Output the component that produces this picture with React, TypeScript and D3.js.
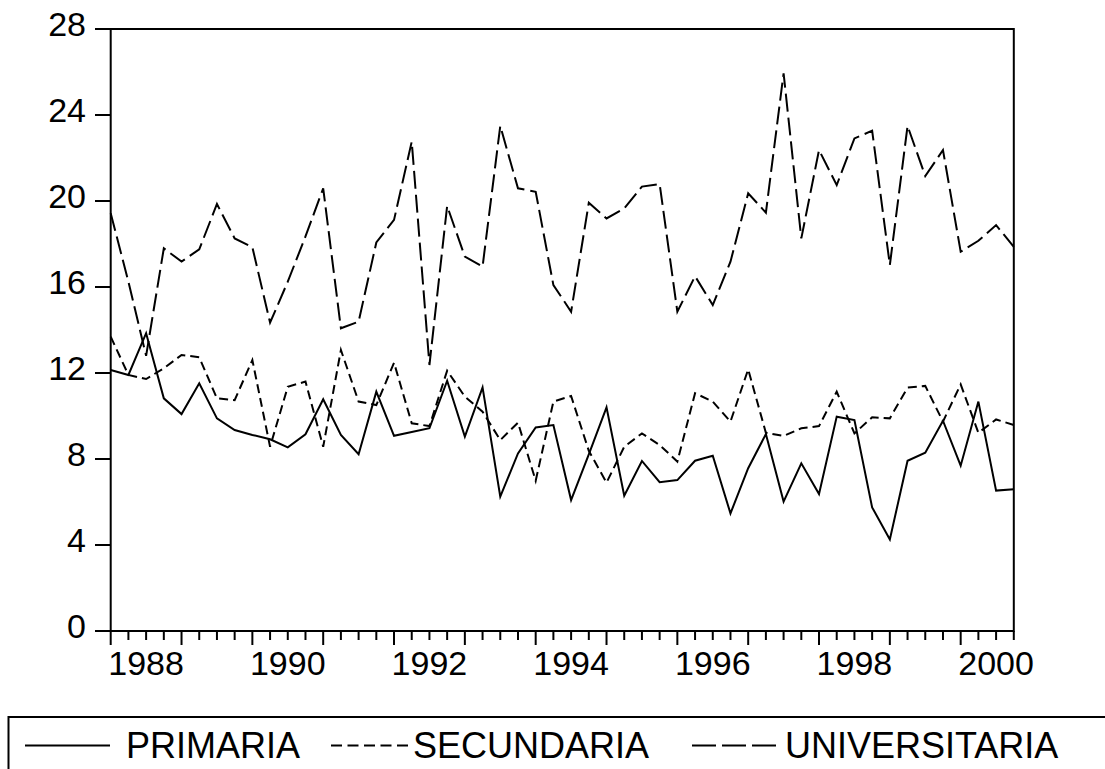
import React from "react";
import * as d3 from "d3";

const quarters: string[] = [];
for (let y = 1988; y <= 2000; y++) for (let q = 1; q <= 4; q++) quarters.push(`${y}Q${q}`);

const primaria = [
  12.14, 11.91, 13.85, 10.82,
  10.09, 11.52, 9.89, 9.35,
  9.12, 8.92, 8.54, 9.15,
  10.78, 9.12, 8.22, 11.13,
  9.08, 9.26, 9.43, 11.64,
  9.04, 11.33, 6.25, 8.26,
  9.47, 9.58, 6.09, 8.22,
  10.4, 6.29, 7.91, 6.92,
  7.02, 7.92, 8.15, 5.47,
  7.57, 9.16, 6.02, 7.8,
  6.37, 9.97, 9.81, 5.75,
  4.26, 7.92, 8.29, 9.78,
  7.69, 10.67, 6.53, 6.59,
];

const secundaria = [
  13.69, 11.91, 11.72, 12.22,
  12.84, 12.73, 10.82, 10.74,
  12.6, 8.57, 11.36, 11.6,
  8.57, 13.07, 10.67, 10.51,
  12.48, 9.66, 9.53, 12.11,
  10.9, 10.2, 8.88, 9.69,
  6.99, 10.67, 10.93, 8.38,
  6.9, 8.57, 9.19, 8.65,
  7.88, 11.06, 10.67, 9.74,
  12.17, 9.22, 9.07, 9.43,
  9.53, 11.13, 9.19, 9.94,
  9.89, 11.32, 11.4, 9.74,
  11.47, 9.22, 9.84, 9.58,
];

const universitaria = [
  19.43, 16.25, 12.8, 17.8,
  17.18, 17.75, 19.86, 18.26,
  17.85, 14.34, 16.25, 18.35,
  20.59, 14.08, 14.39, 18.07,
  19.12, 22.76, 12.37, 19.77,
  17.41, 16.95, 23.49, 20.59,
  20.43, 16.09, 14.85, 19.92,
  19.19, 19.66, 20.67, 20.79,
  14.85, 16.5, 15.16, 17.18,
  20.36, 19.46, 25.94, 18.26,
  22.37, 20.74, 22.91, 23.27,
  17.02, 23.49, 21.16, 22.37,
  17.64, 18.15, 18.88, 17.87,
];

const yTicks = [0, 4, 8, 12, 16, 20, 24, 28];
const yearLabels = [1988, 1990, 1992, 1994, 1996, 1998, 2000];

const series = [
  { name: "PRIMARIA", values: primaria, dash: "none", legendDash: "none" },
  { name: "SECUNDARIA", values: secundaria, dash: "9,5", legendDash: "11,5.5" },
  { name: "UNIVERSITARIA", values: universitaria, dash: "18,6", legendDash: "24,6" },
];

const FONT = "'Liberation Sans', Arial, sans-serif";

export default function App() {
  const left = 110.7, right = 1013.8, top = 29, bottom = 631;
  const x = d3.scaleLinear().domain([0, quarters.length - 1]).range([left, right]);
  const y = d3.scaleLinear().domain([0, 28]).range([bottom, top]);
  const line = d3
    .line<number>()
    .x((_, i) => x(i))
    .y((d) => y(d));

  const legendItems = [
    { s: series[0], x1: 25, x2: 110, tx: 126 },
    { s: series[1], x1: 331, x2: 408, tx: 413 },
    { s: series[2], x1: 692, x2: 776, tx: 785 },
  ];

  return (
    <svg
      width={1105}
      height={769}
      style={{ position: "absolute", left: 0, top: 0, background: "#fff" }}
    >
      <rect x={0} y={0} width={1105} height={769} fill="#fff" />
      {/* data lines */}
      <g fill="none" stroke="#000" strokeWidth={2} strokeLinejoin="miter">
        {series.map((s) => (
          <path key={s.name} d={line(s.values) || ""} strokeDasharray={s.dash === "none" ? undefined : s.dash} />
        ))}
      </g>
      {/* frame */}
      <rect x={left} y={top} width={right - left} height={bottom - top} fill="none" stroke="#000" strokeWidth={2} />
      {/* y ticks */}
      <g stroke="#000" strokeWidth={2}>
        {yTicks.map((t) => (
          <line key={t} x1={95} x2={left} y1={y(t)} y2={y(t)} />
        ))}
        {quarters.map((q, i) => (
          <line key={q} x1={x(i)} x2={x(i)} y1={bottom} y2={i % 4 === 0 ? bottom + 14 : bottom + 9} />
        ))}
      </g>
      <g fontFamily={FONT} fontSize={34} fill="#000">
        {yTicks.map((t) => (
          <text key={t} x={86} y={y(t) + 7} textAnchor="end">
            {t}
          </text>
        ))}
        {yearLabels.map((yr) => {
          const i = (yr - 1988) * 4;
          return (
            <text key={yr} x={x(i) + (x(2) - x(0))} y={675} textAnchor="middle">
              {yr}
            </text>
          );
        })}
      </g>
      {/* legend */}
      <rect x={8.5} y={717} width={1110} height={100} fill="none" stroke="#000" strokeWidth={2} />
      <g fontFamily={FONT} fontSize={36} fill="#000">
        {legendItems.map(({ s, x1, x2, tx }) => (
          <g key={s.name}>
            <line
              x1={x1}
              x2={x2}
              y1={745.5}
              y2={745.5}
              stroke="#000"
              strokeWidth={2}
              strokeDasharray={s.legendDash === "none" ? undefined : s.legendDash}
            />
            <text x={tx} y={758}>
              {s.name}
            </text>
          </g>
        ))}
      </g>
    </svg>
  );
}
